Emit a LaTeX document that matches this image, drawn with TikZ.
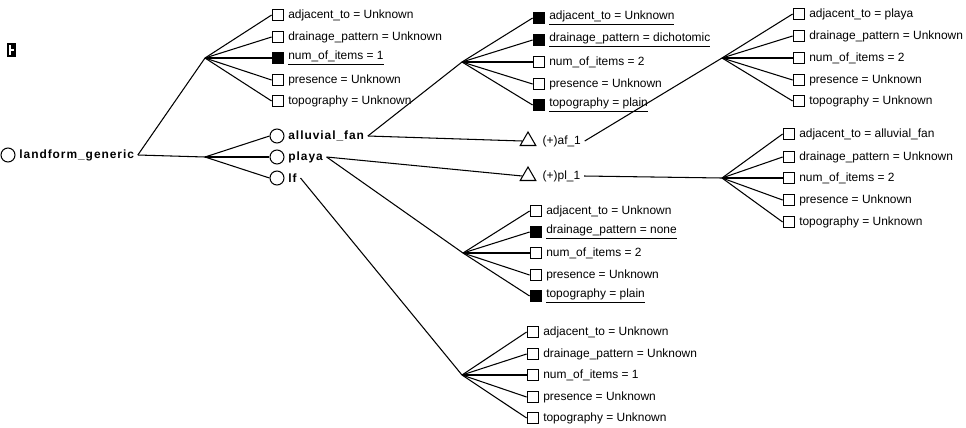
\documentclass[tikz,border=0pt]{standalone}
\usepackage{fontspec}
\setmainfont{Liberation Sans}
\usetikzlibrary{shapes.geometric}

\begin{document}
\begin{tikzpicture}[
        x=0.02cm, y=-0.02cm,
        every node/.style={font=\fontsize{6.8}{8}\selectfont},
        attr/.style={draw, rectangle, inner sep=0pt, minimum size=0.235cm, line width=0.6pt},
        attrset/.style={attr, fill=black},
        obj/.style={draw, circle, inner sep=0pt, minimum size=0.28cm, line width=0.6pt},
        inst/.style={draw, regular polygon, regular polygon sides=3, inner sep=0pt,
                     minimum size=0.36cm, line width=0.6pt},
        lbl/.style={inner sep=2pt},
        instlbl/.style={inner sep=2pt, label distance=0.1cm},
        objlbl/.style={inner sep=2pt,
                       font=\fontsize{6.8}{8}\selectfont\bfseries\addfontfeature{LetterSpace=8}},
        link/.style={line width=0.6pt}
    ]
        \useasboundingbox (0,0) rectangle (966,427);

        % small icon, top left
        \fill (7,43) rectangle (16,57);
        \draw[white, line width=0.8pt] (10,45) -- (10,55) (10,50) -- (14,50);

        % root object
        \node[obj, label={[objlbl, name=root-l]right:landform\_generic}] (root) at (8,155) {};

        % junctions
        \coordinate (j1) at (205, 58);
        \coordinate (j2) at (205,157);
        \coordinate (j3) at (462, 62);
        \coordinate (j4) at (722, 58);
        \coordinate (j5) at (722,178);
        \coordinate (j6) at (463,253);
        \coordinate (j7) at (462,375);

        % attributes of landform_generic
        \node[attr,    label={[lbl]right:adjacent\_to = Unknown}]               (g1) at (278, 15) {};
        \node[attr,    label={[lbl]right:drainage\_pattern = Unknown}]          (g2) at (278, 37) {};
        \node[attrset, label={[lbl]right:\underline{num\_of\_items = 1}}]       (g3) at (278, 58) {};
        \node[attr,    label={[lbl]right:presence = Unknown}]                   (g4) at (278, 80) {};
        \node[attr,    label={[lbl]right:topography = Unknown}]                 (g5) at (278,101) {};

        % sub-objects
        \node[obj, label={[objlbl, name=af-l]right:alluvial\_fan}] (af) at (277,136) {};
        \node[obj, label={[objlbl, name=pl-l]right:playa}]         (pl) at (277,157) {};
        \node[obj, label={[objlbl, name=lf-l]right:lf}]            (lf) at (277,178) {};

        % attributes of alluvial_fan
        \node[attrset, label={[lbl]right:\underline{adjacent\_to = Unknown}}]          (a1) at (539, 18) {};
        \node[attrset, label={[lbl]right:\underline{drainage\_pattern = dichotomic}}]  (a2) at (539, 40) {};
        \node[attr,    label={[lbl]right:num\_of\_items = 2}]                          (a3) at (539, 62) {};
        \node[attr,    label={[lbl]right:presence = Unknown}]                          (a4) at (539, 84) {};
        \node[attrset, label={[lbl]right:\underline{topography = plain}}]              (a5) at (539,105) {};

        % instances
        \node[inst, label={[instlbl, name=afi-l]right:(+)af\_1}] (afi) at (528,141) {};
        \node[inst, label={[instlbl, name=pli-l]right:(+)pl\_1}] (pli) at (528,176) {};

        % attributes of af_1
        \node[attr, label={[lbl]right:adjacent\_to = playa}]              (b1) at (799, 14) {};
        \node[attr, label={[lbl]right:drainage\_pattern = Unknown}]       (b2) at (799, 36) {};
        \node[attr, label={[lbl]right:num\_of\_items = 2}]                (b3) at (799, 58) {};
        \node[attr, label={[lbl]right:presence = Unknown}]                (b4) at (799, 80) {};
        \node[attr, label={[lbl]right:topography = Unknown}]              (b5) at (799,101) {};

        % attributes of pl_1
        \node[attr, label={[lbl]right:adjacent\_to = alluvial\_fan}]      (c1) at (789,134) {};
        \node[attr, label={[lbl]right:drainage\_pattern = Unknown}]       (c2) at (789,157) {};
        \node[attr, label={[lbl]right:num\_of\_items = 2}]                (c3) at (789,178) {};
        \node[attr, label={[lbl]right:presence = Unknown}]                (c4) at (789,200) {};
        \node[attr, label={[lbl]right:topography = Unknown}]              (c5) at (789,222) {};

        % attributes of playa
        \node[attr,    label={[lbl]right:adjacent\_to = Unknown}]                 (p1) at (536,211) {};
        \node[attrset, label={[lbl]right:\underline{drainage\_pattern = none}}]   (p2) at (536,232) {};
        \node[attr,    label={[lbl]right:num\_of\_items = 2}]                     (p3) at (536,253) {};
        \node[attr,    label={[lbl]right:presence = Unknown}]                     (p4) at (536,275) {};
        \node[attrset, label={[lbl]right:\underline{topography = plain}}]         (p5) at (536,296) {};

        % attributes of lf
        \node[attr, label={[lbl]right:adjacent\_to = Unknown}]            (l1) at (533,332) {};
        \node[attr, label={[lbl]right:drainage\_pattern = Unknown}]       (l2) at (533,354) {};
        \node[attr, label={[lbl]right:num\_of\_items = 1}]                (l3) at (533,375) {};
        \node[attr, label={[lbl]right:presence = Unknown}]                (l4) at (533,397) {};
        \node[attr, label={[lbl]right:topography = Unknown}]              (l5) at (533,418) {};

        % connectors
        \draw[link] (root-l.east) -- (j1);
        \draw[link] (root-l.east) -- (j2);
        \draw[link] (j1) -- (g1.west);
        \draw[link] (j1) -- (g2.west);
        \draw[link] (j1) -- (g3.west);
        \draw[link] (j1) -- (g4.west);
        \draw[link] (j1) -- (g5.west);
        \draw[link] (j2) -- (af.west);
        \draw[link] (j2) -- (pl.west);
        \draw[link] (j2) -- (lf.west);

        \draw[link] (af-l.east) -- (j3);
        \draw[link] (af-l.east) -- (afi.west);
        \draw[link] (j3) -- (a1.west);
        \draw[link] (j3) -- (a2.west);
        \draw[link] (j3) -- (a3.west);
        \draw[link] (j3) -- (a4.west);
        \draw[link] (j3) -- (a5.west);

        \draw[link] (afi-l.east) -- (j4);
        \draw[link] (j4) -- (b1.west);
        \draw[link] (j4) -- (b2.west);
        \draw[link] (j4) -- (b3.west);
        \draw[link] (j4) -- (b4.west);
        \draw[link] (j4) -- (b5.west);

        \draw[link] (pl-l.east) -- (pli.west);
        \draw[link] (pl-l.east) -- (j6);
        \draw[link] (j6) -- (p1.west);
        \draw[link] (j6) -- (p2.west);
        \draw[link] (j6) -- (p3.west);
        \draw[link] (j6) -- (p4.west);
        \draw[link] (j6) -- (p5.west);

        \draw[link] (pli-l.east) -- (j5);
        \draw[link] (j5) -- (c1.west);
        \draw[link] (j5) -- (c2.west);
        \draw[link] (j5) -- (c3.west);
        \draw[link] (j5) -- (c4.west);
        \draw[link] (j5) -- (c5.west);

        \draw[link] (lf-l.east) -- (j7);
        \draw[link] (j7) -- (l1.west);
        \draw[link] (j7) -- (l2.west);
        \draw[link] (j7) -- (l3.west);
        \draw[link] (j7) -- (l4.west);
        \draw[link] (j7) -- (l5.west);
    \end{tikzpicture}
\end{document}
